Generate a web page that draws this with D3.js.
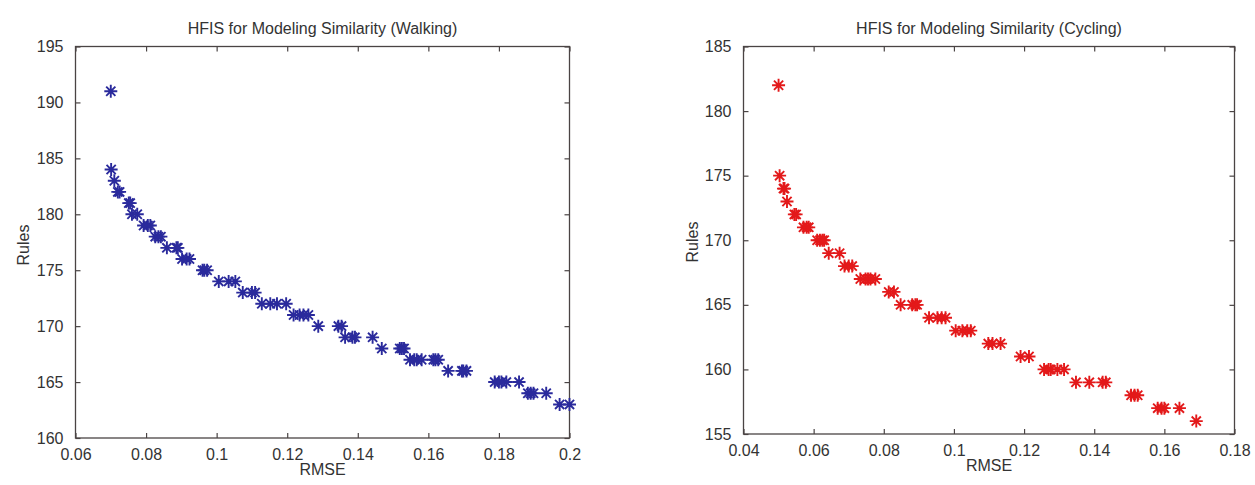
<!DOCTYPE html>
<html><head><meta charset="utf-8">
<script src="https://cdn.jsdelivr.net/npm/d3@7"></script>
<style>
body{margin:0;background:#fff}
text{font-family:"Liberation Sans",Arial,sans-serif;fill:#333}
</style>
</head><body><svg id="c" width="1255" height="485"></svg>
<script>
// ---- data ----
const walkingRMSE = [0.0700,0.0701,0.0710,0.0720,0.0725,0.0751,0.0755,0.0760,0.0775,0.0793,0.0805,0.0812,
  0.0826,0.0835,0.0842,0.0859,0.0886,0.0890,0.0902,0.0915,0.0923,0.0960,0.0965,0.0973,
  0.1006,0.1034,0.1053,0.1074,0.1100,0.1109,0.1128,0.1152,0.1171,0.1197,0.1218,0.1235,0.1246,0.1260,
  0.1288,0.1345,0.1354,0.1364,0.1385,0.1392,0.1442,0.1468,0.1519,0.1525,0.1531,
  0.1548,0.1560,0.1567,0.1581,0.1614,0.1620,0.1628,0.1656,0.1695,0.1699,0.1708,
  0.1788,0.1800,0.1807,0.1821,0.1857,0.1882,0.1890,0.1898,0.1934,0.1972,0.2000];
const walkingRules = [191,184,183,182,182,181,181,180,180,179,179,179,
  178,178,178,177,177,177,176,176,176,175,175,175,
  174,174,174,173,173,173,172,172,172,172,171,171,171,171,
  170,170,170,169,169,169,169,168,168,168,168,
  167,167,167,167,167,167,167,166,166,166,166,
  165,165,165,165,165,164,164,164,164,163,163];
const cyclingRMSE = [0.0500,0.0503,0.0514,0.0517,0.0524,0.0545,0.0550,0.0571,0.0580,0.0586,
  0.0610,0.0618,0.0625,0.0630,0.0643,0.0674,0.0688,0.0700,0.0710,
  0.0733,0.0748,0.0755,0.0762,0.0776,0.0814,0.0829,0.0848,0.0881,0.0890,0.0895,
  0.0929,0.0953,0.0965,0.0976,0.1005,0.1024,0.1038,0.1048,0.1098,0.1110,0.1133,
  0.1190,0.1214,0.1257,0.1270,0.1276,0.1295,0.1314,0.1348,0.1386,0.1424,0.1433,
  0.1505,0.1515,0.1524,0.1581,0.1592,0.1600,0.1643,0.1691];
const cyclingRules = [182,175,174,174,173,172,172,171,171,171,
  170,170,170,170,169,169,168,168,168,
  167,167,167,167,167,166,166,165,165,165,165,
  164,164,164,164,163,163,163,163,162,162,162,
  161,161,160,160,160,160,160,159,159,159,159,
  158,158,158,157,157,157,157,156];
const walkingXTicks = [0.06,0.08,0.1,0.12,0.14,0.16,0.18,0.2];
const walkingYTicks = [160,165,170,175,180,185,190,195];
const cyclingXTicks = [0.04,0.06,0.08,0.1,0.12,0.14,0.16,0.18];
const cyclingYTicks = [155,160,165,170,175,180,185];
const titles = ["HFIS for Modeling Similarity (Walking)","HFIS for Modeling Similarity (Cycling)"];
const xLabel = "RMSE", yLabel = "Rules";

// ---- layout ----
const panels = [
  {rmse: walkingRMSE, rules: walkingRules, xt: walkingXTicks, yt: walkingYTicks, title: titles[0],
   x0: 75.5, x1: 569.5, y0: 46.5, y1: 438, color: "#2a2a9c", ylabX: 28.5, ylabY: 245},
  {rmse: cyclingRMSE, rules: cyclingRules, xt: cyclingXTicks, yt: cyclingYTicks, title: titles[1],
   x0: 743.5, x1: 1234.5, y0: 46.5, y1: 434, color: "#e3191a", ylabX: 698, ylabY: 242}
];
const svg = d3.select("#c");
const axisColor = "#4a4444";
const fmt = d3.format("~g");

panels.forEach(p => {
  const x = d3.scaleLinear().domain([p.xt[0], p.xt[p.xt.length-1]]).range([p.x0, p.x1]);
  const y = d3.scaleLinear().domain([p.yt[0], p.yt[p.yt.length-1]]).range([p.y1, p.y0]);
  const g = svg.append("g");

  const styleAxis = sel => {
    sel.select(".domain").remove();
    sel.selectAll(".tick line").attr("stroke", axisColor).attr("stroke-width", 1.2);
    sel.selectAll(".tick text").style("font-size", "16px").attr("fill", "#333");
  };
  g.append("g").attr("transform", `translate(0,${p.y1})`)
    .call(d3.axisBottom(x).tickValues(p.xt).tickSizeInner(-5).tickSizeOuter(0).tickPadding(11).tickFormat(fmt))
    .call(styleAxis);
  g.append("g").attr("transform", `translate(0,${p.y0})`)
    .call(d3.axisTop(x).tickValues(p.xt).tickSizeInner(-5).tickSizeOuter(0).tickFormat(""))
    .call(styleAxis);
  g.append("g").attr("transform", `translate(${p.x0},0)`)
    .call(d3.axisLeft(y).tickValues(p.yt).tickSizeInner(-5).tickSizeOuter(0).tickPadding(12).tickFormat(fmt))
    .call(styleAxis);
  g.append("g").attr("transform", `translate(${p.x1},0)`)
    .call(d3.axisRight(y).tickValues(p.yt).tickSizeInner(-5).tickSizeOuter(0).tickFormat(""))
    .call(styleAxis);
  g.selectAll(".tick text").attr("font-family", null);

  g.append("rect").attr("x", p.x0).attr("y", p.y0).attr("width", p.x1 - p.x0).attr("height", p.y1 - p.y0)
    .attr("fill", "none").attr("stroke", axisColor).attr("stroke-width", 1.3);

  const r = 6.5, d = 4.6;
  const star = `M${-r},0H${r}M0,${-r}V${r}M${-d},${-d}L${d},${d}M${-d},${d}L${d},${-d}`;
  g.append("g").selectAll("path").data(p.rmse.map((v, i) => [v, p.rules[i]])).join("path")
    .attr("transform", v => `translate(${x(v[0])},${y(v[1])})`)
    .attr("d", star).attr("fill", "none").attr("stroke", p.color).attr("stroke-width", 1.9);

  g.append("text").attr("x", (p.x0 + p.x1) / 2).attr("y", 34).attr("text-anchor", "middle")
    .style("font-size", "16px").text(p.title);
  g.append("text").attr("x", (p.x0 + p.x1) / 2).attr("y", p.y1 + 37).attr("text-anchor", "middle")
    .style("font-size", "16px").text(xLabel);
  g.append("text").attr("transform", `translate(${p.ylabX},${p.ylabY}) rotate(-90)`).attr("text-anchor", "middle")
    .style("font-size", "16px").text(yLabel);
});
</script>
</body></html>
